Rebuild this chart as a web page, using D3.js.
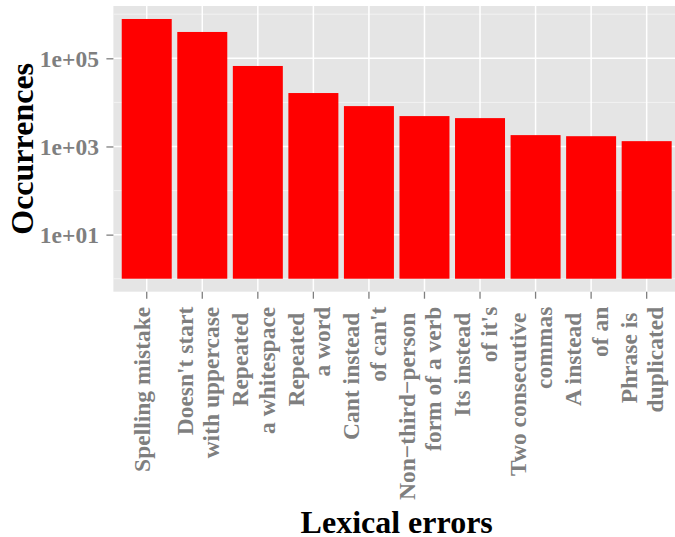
<!DOCTYPE html>
<html>
<head>
<meta charset="utf-8">
<script src="https://cdn.jsdelivr.net/npm/d3@7"></script>
<style>
  html, body { margin: 0; padding: 0; background: #ffffff; }
  svg { display: block; }
  text { font-family: "Liberation Serif", "Times New Roman", serif; font-weight: bold; }
</style>
</head>
<body>
<svg id="chart" width="675" height="537"></svg>
<script>
// ---- data ----
const categories = [
  "Spelling mistake",
  "Doesn't start\nwith uppercase",
  "Repeated \na whitespace",
  "Repeated \na word",
  "Cant instead \nof can't",
  "Non\u2212third\u2212person \nform of a verb",
  "Its instead \nof it's",
  "Two consecutive \ncommas",
  "A instead \nof an",
  "Phrase is \nduplicated"
];
const values = [780000, 396000, 67000, 16300, 8240, 4890, 4400, 1810, 1710, 1320];
const majorTicks = [10, 1000, 100000];
const majorTickLabels = ["1e+01", "1e+03", "1e+05"];
const minorTicks = [1, 100, 10000, 1000000];
const xTitle = "Lexical errors";
const yTitle = "Occurrences";

// ---- layout ----
const svg = d3.select("#chart");
const panel = { left: 113.4, right: 680, top: 6, bottom: 291.7 };
const textGrey = "#7f7f7f";

const x = d3.scaleBand()
  .domain(categories)
  .range([panel.left, panel.right])
  .paddingInner(0.1)
  .paddingOuter(0.15);

// ggplot-like log scale: bars from 1 (log 0), 5% expansion
const logMax = Math.log10(d3.max(values));
const logMin = 0;
const expand = (logMax - logMin) * 0.05;
const y = d3.scaleLog()
  .domain([Math.pow(10, logMin - expand), Math.pow(10, logMax + expand)])
  .range([panel.bottom, panel.top]);

// panel background
svg.append("rect")
  .attr("x", panel.left).attr("y", panel.top)
  .attr("width", panel.right - panel.left).attr("height", panel.bottom - panel.top)
  .attr("fill", "#e5e5e5");

// minor gridlines
svg.append("g").selectAll("line").data(minorTicks).join("line")
  .attr("x1", panel.left).attr("x2", panel.right)
  .attr("y1", d => y(d)).attr("y2", d => y(d))
  .attr("stroke", "#f2f2f2").attr("stroke-width", 1);

// major gridlines
svg.append("g").selectAll("line").data(majorTicks).join("line")
  .attr("x1", panel.left).attr("x2", panel.right)
  .attr("y1", d => y(d)).attr("y2", d => y(d))
  .attr("stroke", "#ffffff").attr("stroke-width", 1.5);

svg.append("g").selectAll("line").data(categories).join("line")
  .attr("x1", d => x(d) + x.bandwidth() / 2).attr("x2", d => x(d) + x.bandwidth() / 2)
  .attr("y1", panel.top).attr("y2", panel.bottom)
  .attr("stroke", "#ffffff").attr("stroke-width", 1.5);

// bars
svg.append("g").selectAll("rect").data(values).join("rect")
  .attr("x", (d, i) => x(categories[i]))
  .attr("width", x.bandwidth())
  .attr("y", d => y(d))
  .attr("height", d => y(1) - y(d))
  .attr("fill", "#ff0000");

// y axis
const yAxis = d3.axisLeft(y)
  .tickValues(majorTicks)
  .tickFormat((d, i) => majorTickLabels[i])
  .tickSize(7)
  .tickPadding(7.5);
const gy = svg.append("g").attr("transform", `translate(${panel.left},0)`).call(yAxis);
gy.select(".domain").remove();
gy.selectAll(".tick line").attr("stroke", textGrey).attr("stroke-width", 1.3);
gy.selectAll(".tick text")
  .attr("fill", textGrey)
  .attr("font-size", "23.5px")
  .attr("dy", "0.34em")
  .style("font-family", '"Liberation Serif", "Times New Roman", serif')
  .style("font-weight", "bold");

// x axis
const xAxis = d3.axisBottom(x).tickSize(7).tickFormat("");
const gx = svg.append("g").attr("transform", `translate(0,${panel.bottom})`).call(xAxis);
gx.select(".domain").remove();
gx.selectAll(".tick line").attr("stroke", textGrey).attr("stroke-width", 1.3);
gx.selectAll(".tick text").remove();

const lineH = 26.5;
gx.selectAll(".tick").each(function(d) {
  const lines = d.split("\n");
  const n = lines.length;
  const t = d3.select(this).append("text")
    .attr("transform", "translate(0,15) rotate(-90)")
    .attr("text-anchor", "end")
    .attr("fill", textGrey)
    .attr("font-size", "23.5px")
    .style("white-space", "pre");
  lines.forEach((ln, i) => {
    t.append("tspan")
      .attr("x", 0)
      .attr("y", 3.5 + (i - (n - 1) / 2) * lineH)
      .text(ln);
  });
});

// axis titles
svg.append("text")
  .attr("x", (panel.left + panel.right) / 2)
  .attr("y", 532.5)
  .attr("text-anchor", "middle")
  .attr("font-size", "32px")
  .attr("fill", "#000000")
  .text(xTitle);

svg.append("text")
  .attr("transform", `translate(33,${(panel.top + panel.bottom) / 2}) rotate(-90)`)
  .attr("text-anchor", "middle")
  .attr("font-size", "32px")
  .attr("fill", "#000000")
  .text(yTitle);
</script>
</body>
</html>
